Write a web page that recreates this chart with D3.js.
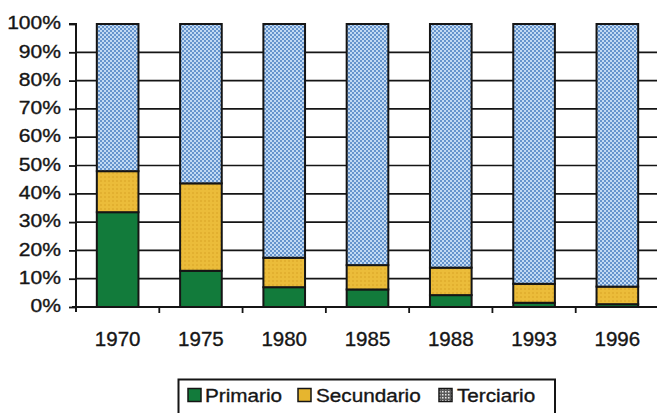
<!DOCTYPE html>
<html>
<head>
<meta charset="utf-8">
<script src="https://cdn.jsdelivr.net/npm/d3@7"></script>
<style>
  html, body { margin: 0; padding: 0; background: #ffffff; }
  svg { display: block; }
  text { font-family: Arial, "Liberation Sans", sans-serif; fill: #161616; stroke: #161616; stroke-width: 0.35px; }
</style>
</head>
<body>
<svg id="chart" width="657" height="413"></svg>
<script>
// Employment share by sector (%)
const years = ["1970", "1975", "1980", "1985", "1988", "1993", "1996"];
const primario = [33.5, 12.8, 7.0, 6.2, 4.2, 1.5, 1.0];
const secundario = [14.5, 30.9, 10.4, 8.6, 9.7, 6.7, 6.2];
const terciario = [52.0, 56.3, 82.6, 85.2, 86.1, 91.8, 92.8];
const sectors = ["Primario", "Secundario", "Terciario"];
const yTicks = [0, 10, 20, 30, 40, 50, 60, 70, 80, 90, 100];

const rows = years.map((yr, i) => ({
  year: yr,
  Primario: primario[i],
  Secundario: secundario[i],
  Terciario: terciario[i]
}));

const svg = d3.select("#chart");
const W = 657, H = 413;
svg.append("rect").attr("width", W).attr("height", H).attr("fill", "#fff");

// Dotted fills
const defs = svg.append("defs");
const pat = defs.append("pattern")
  .attr("id", "dotsBlue").attr("patternUnits", "userSpaceOnUse")
  .attr("width", 4).attr("height", 4);
pat.append("rect").attr("width", 4).attr("height", 4).attr("fill", "#c2daf3");
pat.append("rect").attr("x", 0).attr("y", 0).attr("width", 2).attr("height", 2).attr("fill", "#6694cc");
pat.append("rect").attr("x", 2).attr("y", 2).attr("width", 2).attr("height", 2).attr("fill", "#6694cc");

const patY = defs.append("pattern")
  .attr("id", "dotsYellow").attr("patternUnits", "userSpaceOnUse")
  .attr("width", 4).attr("height", 4);
patY.append("rect").attr("width", 4).attr("height", 4).attr("fill", "#ebbc3a");
patY.append("rect").attr("x", 0).attr("y", 0).attr("width", 2).attr("height", 2).attr("fill", "#e2b030");

const patL = defs.append("pattern")
  .attr("id", "dotsLegend").attr("patternUnits", "userSpaceOnUse")
  .attr("width", 3).attr("height", 3);
patL.append("rect").attr("width", 3).attr("height", 3).attr("fill", "#5a5a5a");
patL.append("rect").attr("x", 1).attr("y", 1).attr("width", 1.5).attr("height", 1.5).attr("fill", "#e8e8e8");

const fills = {
  Primario: "#127b3b",
  Secundario: "url(#dotsYellow)",
  Terciario: "url(#dotsBlue)"
};
const legendFills = {
  Primario: "#127b3b",
  Secundario: "#e6b52f",
  Terciario: "url(#dotsLegend)"
};

const plotLeft = 76, plotRight = 659, plotTop = 24, plotBottom = 307;

const x = d3.scaleBand().domain(years).range([plotLeft, plotRight])
  .paddingInner(0.5).paddingOuter(0.25);
const y = d3.scaleLinear().domain([0, 100]).range([plotBottom, plotTop]);

// Horizontal gridlines (10%..90%)
svg.append("g")
  .selectAll("line")
  .data(yTicks.filter(t => t > 0 && t < 100))
  .join("line")
  .attr("x1", plotLeft).attr("x2", plotRight)
  .attr("y1", d => y(d)).attr("y2", d => y(d))
  .attr("stroke", "#151515").attr("stroke-width", 1.7);

// Stacked bars
const stacked = d3.stack().keys(sectors)(rows);
svg.append("g")
  .selectAll("g")
  .data(stacked)
  .join("g")
  .attr("fill", d => fills[d.key])
  .selectAll("rect")
  .data(d => d)
  .join("rect")
  .attr("x", d => x(d.data.year))
  .attr("width", x.bandwidth())
  .attr("y", d => y(d[1]))
  .attr("height", d => y(d[0]) - y(d[1]))
  .attr("stroke", "#151515")
  .attr("stroke-width", 2);

// Y axis
const yAxis = svg.append("g")
  .attr("transform", `translate(${plotLeft},0)`)
  .call(d3.axisLeft(y).tickValues(yTicks).tickSize(7).tickPadding(0).tickFormat(d => d + "%"));
yAxis.select(".domain").attr("stroke", "#151515").attr("stroke-width", 2)
  .attr("d", `M-7,${y(100)}H0V${plotBottom + 5}`);
yAxis.selectAll(".tick line").attr("stroke", "#151515").attr("stroke-width", 1.8);
yAxis.selectAll(".tick text")
  .attr("x", null).attr("dy", null)
  .attr("text-anchor", "end")
  .attr("dominant-baseline", "middle")
  .attr("font-size", 18)
  .attr("fill", "#161616")
  .attr("transform", "translate(-15,0) scale(1.17,1)");

// X axis
const bandEdges = years.slice(1).map(yr => x(yr) - x.step() * x.paddingInner() / 2);
const xAxisG = svg.append("g");
xAxisG.append("line")
  .attr("x1", plotLeft - 4).attr("x2", plotRight)
  .attr("y1", plotBottom).attr("y2", plotBottom)
  .attr("stroke", "#151515").attr("stroke-width", 2);
xAxisG.selectAll("line.tk")
  .data(bandEdges)
  .join("line")
  .attr("class", "tk")
  .attr("x1", d => d).attr("x2", d => d)
  .attr("y1", plotBottom).attr("y2", plotBottom + 6)
  .attr("stroke", "#151515").attr("stroke-width", 1.8);
xAxisG.selectAll("text")
  .data(years)
  .join("text")
  .attr("x", d => x(d) + x.bandwidth() / 2)
  .attr("y", 345.5)
  .attr("text-anchor", "middle")
  .attr("font-size", 20.5)
  .text(d => d);

// Legend
const lg = svg.append("g");
lg.append("rect")
  .attr("x", 178.5).attr("y", 379.5)
  .attr("width", 376.5).attr("height", 60)
  .attr("fill", "#fff").attr("stroke", "#151515").attr("stroke-width", 2);
const legendItems = [
  { key: "Primario", sx: 188, tx: 205 },
  { key: "Secundario", sx: 298, tx: 316 },
  { key: "Terciario", sx: 439, tx: 457 }
];
legendItems.forEach(it => {
  lg.append("rect")
    .attr("x", it.sx).attr("y", 388.5)
    .attr("width", 13).attr("height", 13)
    .attr("fill", legendFills[it.key])
    .attr("stroke", "#151515").attr("stroke-width", 1.5);
  lg.append("text")
    .attr("transform", `translate(${it.tx},401.5) scale(1.12,1)`)
    .attr("font-size", 18.5)
    .text(it.key);
});
</script>
</body>
</html>
